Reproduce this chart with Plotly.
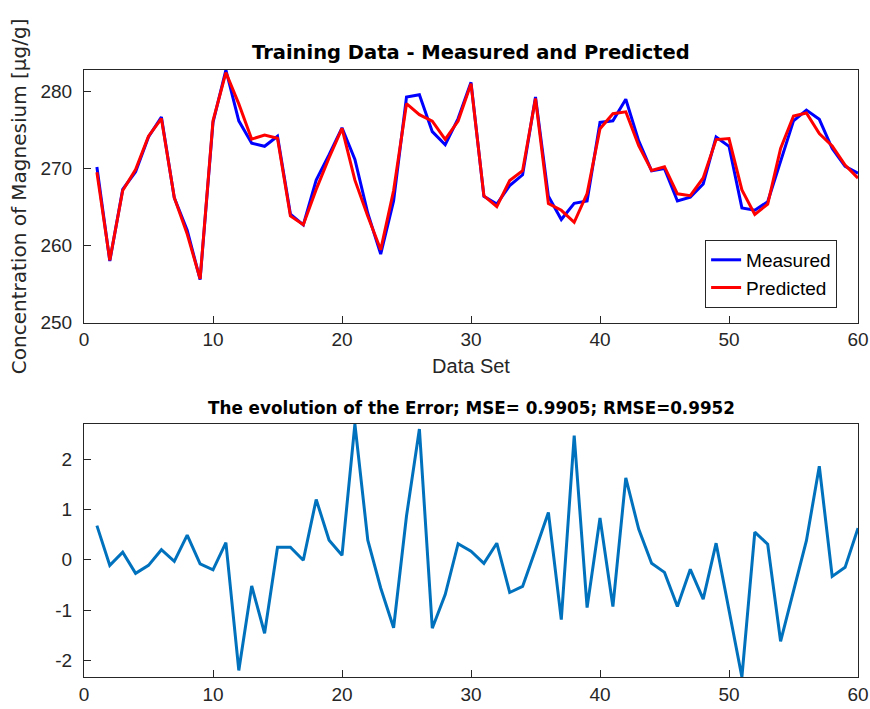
import plotly.graph_objects as go
from plotly.subplots import make_subplots

data_set = list(range(1, 61))

measured = [270.2, 258.0, 267.3, 269.6, 274.1, 276.7, 266.2, 262.0, 255.6, 276.0,
            282.8, 276.2, 273.3, 272.9, 274.2, 264.1, 262.7, 268.5, 271.8, 275.3,
            271.2, 264.2, 258.9, 265.8, 279.3, 279.6, 274.8, 273.1, 276.5, 281.2,
            266.4, 265.4, 267.8, 269.2, 279.3, 266.4, 263.4, 265.5, 265.8, 276.0,
            276.2, 279.0, 273.6, 269.7, 270.0, 265.8, 266.3, 268.0, 274.1, 272.9,
            264.9, 264.6, 265.7, 271.0, 276.2, 277.6, 276.4, 272.6, 270.3, 269.4]

predicted = [269.52, 258.11, 267.15, 269.87, 274.21, 276.50, 266.23, 261.51, 255.68, 276.20,
             282.46, 278.40, 273.82, 274.36, 273.95, 263.85, 262.71, 267.30, 271.41, 275.21,
             268.50, 263.81, 259.46, 267.15, 278.43, 277.00, 276.16, 273.79, 276.18, 281.03,
             266.47, 265.07, 268.45, 269.73, 279.10, 265.46, 264.59, 263.03, 266.75, 275.17,
             277.13, 277.37, 272.99, 269.77, 270.25, 266.73, 266.49, 268.78, 273.77, 273.90,
             267.23, 264.05, 265.39, 272.62, 276.83, 277.22, 274.54, 272.93, 270.45, 268.77]

error = [0.68, -0.11, 0.15, -0.27, -0.11, 0.20, -0.03, 0.49, -0.08, -0.20,
         0.34, -2.20, -0.52, -1.46, 0.25, 0.25, -0.01, 1.20, 0.39, 0.09,
         2.70, 0.39, -0.56, -1.35, 0.87, 2.60, -1.36, -0.69, 0.32, 0.17,
         -0.07, 0.33, -0.65, -0.53, 0.20, 0.94, -1.19, 2.47, -0.95, 0.83,
         -0.93, 1.63, 0.61, -0.07, -0.25, -0.93, -0.19, -0.78, 0.33, -1.00,
         -2.33, 0.55, 0.31, -1.62, -0.63, 0.38, 1.86, -0.33, -0.15, 0.63]

x_ticks = [0, 10, 20, 30, 40, 50, 60]
top_y_ticks = [250, 260, 270, 280]
bottom_y_ticks = [-2, -1, 0, 1, 2]
bottom_y_ticktext = ["-2", "-1", "0", "1", "2"]

title_top = "Training Data - Measured and Predicted"
title_bottom = "The evolution of the Error; MSE= 0.9905; RMSE=0.9952"
x_label = "Data Set"
y_label = "Concentration of Magnesium [μg/g]"

FONT = "Liberation Sans, Arial, sans-serif"
TFONT = "DejaVu Sans, sans-serif"
AX = "#262626"

fig = make_subplots(rows=2, cols=1)

fig.add_trace(go.Scatter(x=data_set, y=measured, mode="lines", name="Measured",
                         line=dict(color="#0000FF", width=3)), row=1, col=1)
fig.add_trace(go.Scatter(x=data_set, y=predicted, mode="lines", name="Predicted",
                         line=dict(color="#FF0000", width=3)), row=1, col=1)
fig.add_trace(go.Scatter(x=data_set, y=error, mode="lines", showlegend=False,
                         line=dict(color="#0072BD", width=3)), row=2, col=1)

axis_common = dict(showline=True, linecolor=AX, linewidth=1, mirror=True,
                   ticks="inside", ticklen=7, tickcolor=AX, tickwidth=1,
                   showgrid=False, zeroline=False, automargin=False,
                   tickfont=dict(family=FONT, size=19, color=AX))

fig.update_layout(
    width=870, height=709,
    margin=dict(l=84, r=12, t=70, b=32),
    paper_bgcolor="white", plot_bgcolor="white",
    font=dict(family=FONT, color=AX),
    xaxis=dict(domain=[0, 1], range=[0, 60], tickvals=x_ticks,
               title=dict(text=x_label, font=dict(family=FONT, size=20, color=AX), standoff=9),
               **axis_common),
    yaxis=dict(domain=[0.5837, 1.0], range=[250, 282.8], tickvals=top_y_ticks,
               ticklabelstandoff=7,
               title=dict(text=y_label, font=dict(family=TFONT, size=20, color=AX), standoff=8),
               **axis_common),
    xaxis2=dict(domain=[0, 1], range=[0, 60], tickvals=x_ticks, **axis_common),
    yaxis2=dict(domain=[0, 0.4168], range=[-2.33, 2.70], tickvals=bottom_y_ticks,
                ticktext=bottom_y_ticktext, ticklabelstandoff=7, **axis_common),
    legend=dict(x=0.973, y=0.664, xanchor="right", yanchor="middle",
                bordercolor=AX, borderwidth=1, bgcolor="white",
                font=dict(family=FONT, size=19, color="black"),
                tracegroupgap=0),
    annotations=[
        dict(text="<b>" + title_top + "</b>", xref="paper", yref="paper",
             x=0.5, y=1.0, yshift=4, xanchor="center", yanchor="bottom", showarrow=False,
             font=dict(family=TFONT, size=19.5, color="black")),
        dict(text="<b>" + title_bottom + "</b>", xref="paper", yref="paper",
             x=0.5, y=0.4168, yshift=4, xanchor="center", yanchor="bottom", showarrow=False,
             font=dict(family=TFONT, size=16.8, color="black")),
    ],
)

# Remove the browser's default 8px body margin so the figure fills the window exactly.
fig.write_html("out.html",
               config={"displayModeBar": False},
               post_script="document.body.style.margin='0';document.body.style.overflow='hidden';")
